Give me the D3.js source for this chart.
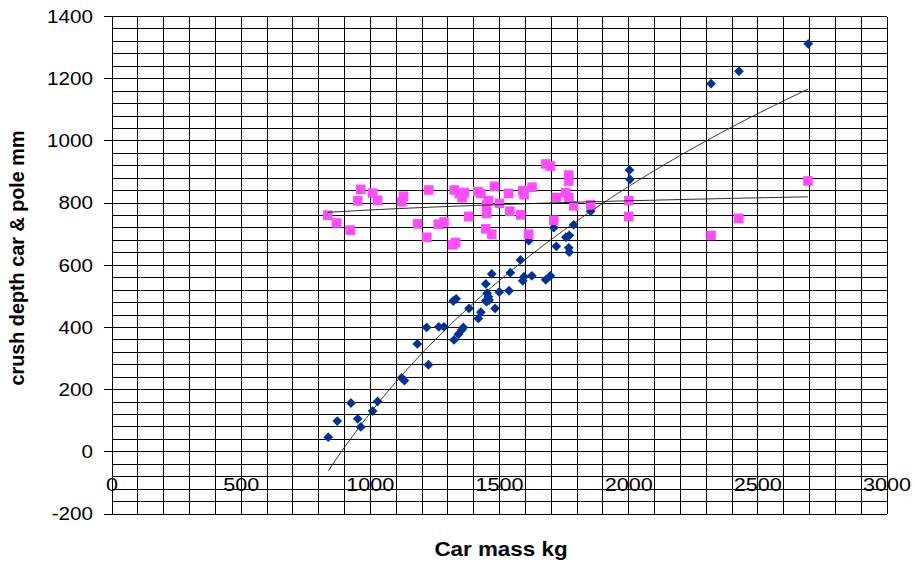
<!DOCTYPE html>
<html>
<head>
<meta charset="utf-8">
<script src="https://cdn.jsdelivr.net/npm/d3@7"></script>
<style>
  html, body { margin: 0; padding: 0; background: #fff; }
  svg { display: block; }
  text { font-family: "Liberation Sans", Arial, sans-serif; fill: #000; }
</style>
</head>
<body>
<svg id="chart" width="916" height="564"></svg>
<script>
// ---- data ----
const carMass = [837, 872, 925, 951, 963, 1009, 1028, 1121, 1132, 1182, 1225, 1218, 1265, 1285,
  1321, 1332, 1324, 1341, 1354, 1360, 1382, 1418, 1428, 1447, 1452, 1457, 1450, 1460, 1447, 1470,
  1483, 1499, 1537, 1542, 1581, 1590, 1595, 1625, 1613, 1679, 1697, 1710, 1720, 1757, 1770, 1768,
  1770, 1787, 1853, 2003, 2005, 2319, 2427, 2695];
const carDepth = [47, 99, 157, 106, 80, 131, 162, 238, 229, 347, 280, 400, 402, 402,
  485, 492, 360, 378, 392, 400, 461, 429, 449, 486, 510, 499, 483, 488, 540, 572,
  461, 514, 518, 576, 617, 550, 563, 566, 679, 553, 566, 721, 661, 690, 696, 656,
  642, 730, 774, 906, 876, 1184, 1224, 1312];

const poleMass = [835, 870, 922, 963, 951, 1009, 1028, 1128, 1121, 1183, 1226, 1218, 1263, 1285,
  1319, 1330, 1325, 1344, 1363, 1355, 1381, 1416, 1428, 1481, 1457, 1450, 1450, 1447, 1470, 1500,
  1535, 1540, 1582, 1590, 1595, 1626, 1613, 1679, 1697, 1710, 1720, 1756, 1768, 1768, 1768, 1787,
  1853, 2001, 2000, 2319, 2426, 2694];
const poleDepth = [761, 736, 713, 844, 807, 832, 809, 822, 804, 733, 842, 690, 732, 739,
  666, 673, 842, 831, 833, 817, 757, 837, 831, 854, 808, 794, 767, 717, 700, 799,
  831, 774, 762, 840, 827, 851, 700, 926, 919, 745, 818, 833, 890, 871, 818, 791,
  794, 808, 757, 696, 751, 871];

const xTicks = [0, 500, 1000, 1500, 2000, 2500, 3000];
const yTicks = [-200, 0, 200, 400, 600, 800, 1000, 1200, 1400];
const xTitle = "Car mass kg";
const yTitle = "crush depth car & pole mm";

// ---- layout ----
const svg = d3.select("#chart");
const x = d3.scaleLinear().domain([0, 3000]).range([112, 887]);
const y = d3.scaleLinear().domain([-200, 1400]).range([514, 16.5]);

// grid (its x = 0 and y = 0 lines double as the axis lines)
const grid = svg.append("g").attr("stroke", "#000").attr("stroke-width", 1)
  .attr("shape-rendering", "crispEdges");
grid.selectAll("line.v").data(d3.range(0, 3001, 100)).join("line")
  .attr("class", "v")
  .attr("x1", d => x(d)).attr("x2", d => x(d))
  .attr("y1", y(1400)).attr("y2", y(-200));
grid.selectAll("line.h").data(d3.range(-200, 1401, 40)).join("line")
  .attr("class", "h")
  .attr("x1", x(0)).attr("x2", x(3000))
  .attr("y1", d => y(d)).attr("y2", d => y(d));

// y axis ticks (outward, left of x = 0)
const yAxis = svg.append("g").attr("transform", `translate(${x(0)},0)`)
  .attr("shape-rendering", "crispEdges")
  .call(d3.axisLeft(y).tickValues(yTicks).tickSize(8).tickFormat("").offset(0));
yAxis.select(".domain").remove();
yAxis.selectAll(".tick line").attr("stroke", "#000");

// x axis ticks (downward from y = 0)
const xAxis = svg.append("g").attr("transform", `translate(0,${y(0)})`)
  .attr("shape-rendering", "crispEdges")
  .call(d3.axisBottom(x).tickValues(xTicks).tickSize(7).tickFormat("").offset(0));
xAxis.select(".domain").remove();
xAxis.selectAll(".tick line").attr("stroke", "#000");

// tick labels (slightly stretched horizontally, as in the reference)
svg.append("g").selectAll("g").data(yTicks).join("g")
  .attr("transform", d => `translate(93,${y(d)}) scale(1.18,1)`)
  .append("text")
  .attr("text-anchor", "end").attr("dy", "0.36em")
  .style("font-size", "17.5px")
  .text(d => d);

svg.append("g").selectAll("g").data(xTicks).join("g")
  .attr("transform", d => `translate(${x(d)},491) scale(1.2,1)`)
  .append("text")
  .attr("text-anchor", "middle")
  .style("font-size", "18px")
  .text(d => d);

// axis titles
svg.append("g").attr("transform", "translate(501,556) scale(1.12,1)")
  .append("text").attr("text-anchor", "middle")
  .style("font-size", "20px").style("font-weight", "bold")
  .text(xTitle);
svg.append("text")
  .attr("transform", "translate(24,258) rotate(-90)")
  .attr("text-anchor", "middle")
  .style("font-size", "19.8px").style("font-weight", "bold")
  .text(yTitle);

// markers
const car = carMass.map((m, i) => [m, carDepth[i]]);
const pole = poleMass.map((m, i) => [m, poleDepth[i]]);
const dh = 4.9;
svg.append("g").selectAll("path").data(car).join("path")
  .attr("d", d => `M${x(d[0])},${y(d[1]) - dh}L${x(d[0]) + dh},${y(d[1])}L${x(d[0])},${y(d[1]) + dh}L${x(d[0]) - dh},${y(d[1])}Z`)
  .attr("fill", "#00339a");
const sq = 9.6;
svg.append("g").selectAll("rect").data(pole).join("rect")
  .attr("x", d => x(d[0]) - sq / 2).attr("y", d => y(d[1]) - sq / 2)
  .attr("width", sq).attr("height", sq)
  .attr("fill", "#ff4cff");

// logarithmic trend lines (least squares on ln(mass)), drawn over the data range
function logFit(xs, ys) {
  const lx = xs.map(Math.log);
  const mx = d3.mean(lx), my = d3.mean(ys);
  let sxy = 0, sxx = 0;
  lx.forEach((v, i) => { sxy += (v - mx) * (ys[i] - my); sxx += (v - mx) * (v - mx); });
  const a = sxy / sxx, b = my - a * mx;
  const [lo, hi] = d3.extent(xs);
  return d3.range(0, 101).map(k => { const m = lo + (hi - lo) * k / 100; return [m, a * Math.log(m) + b]; });
}
const line = d3.line().x(d => x(d[0])).y(d => y(d[1]));
svg.append("path").datum(logFit(carMass, carDepth))
  .attr("d", line).attr("fill", "none").attr("stroke", "#222").attr("stroke-width", 0.9);
svg.append("path").datum(logFit(poleMass, poleDepth))
  .attr("d", line).attr("fill", "none").attr("stroke", "#111").attr("stroke-width", 0.9);
</script>
</body>
</html>
